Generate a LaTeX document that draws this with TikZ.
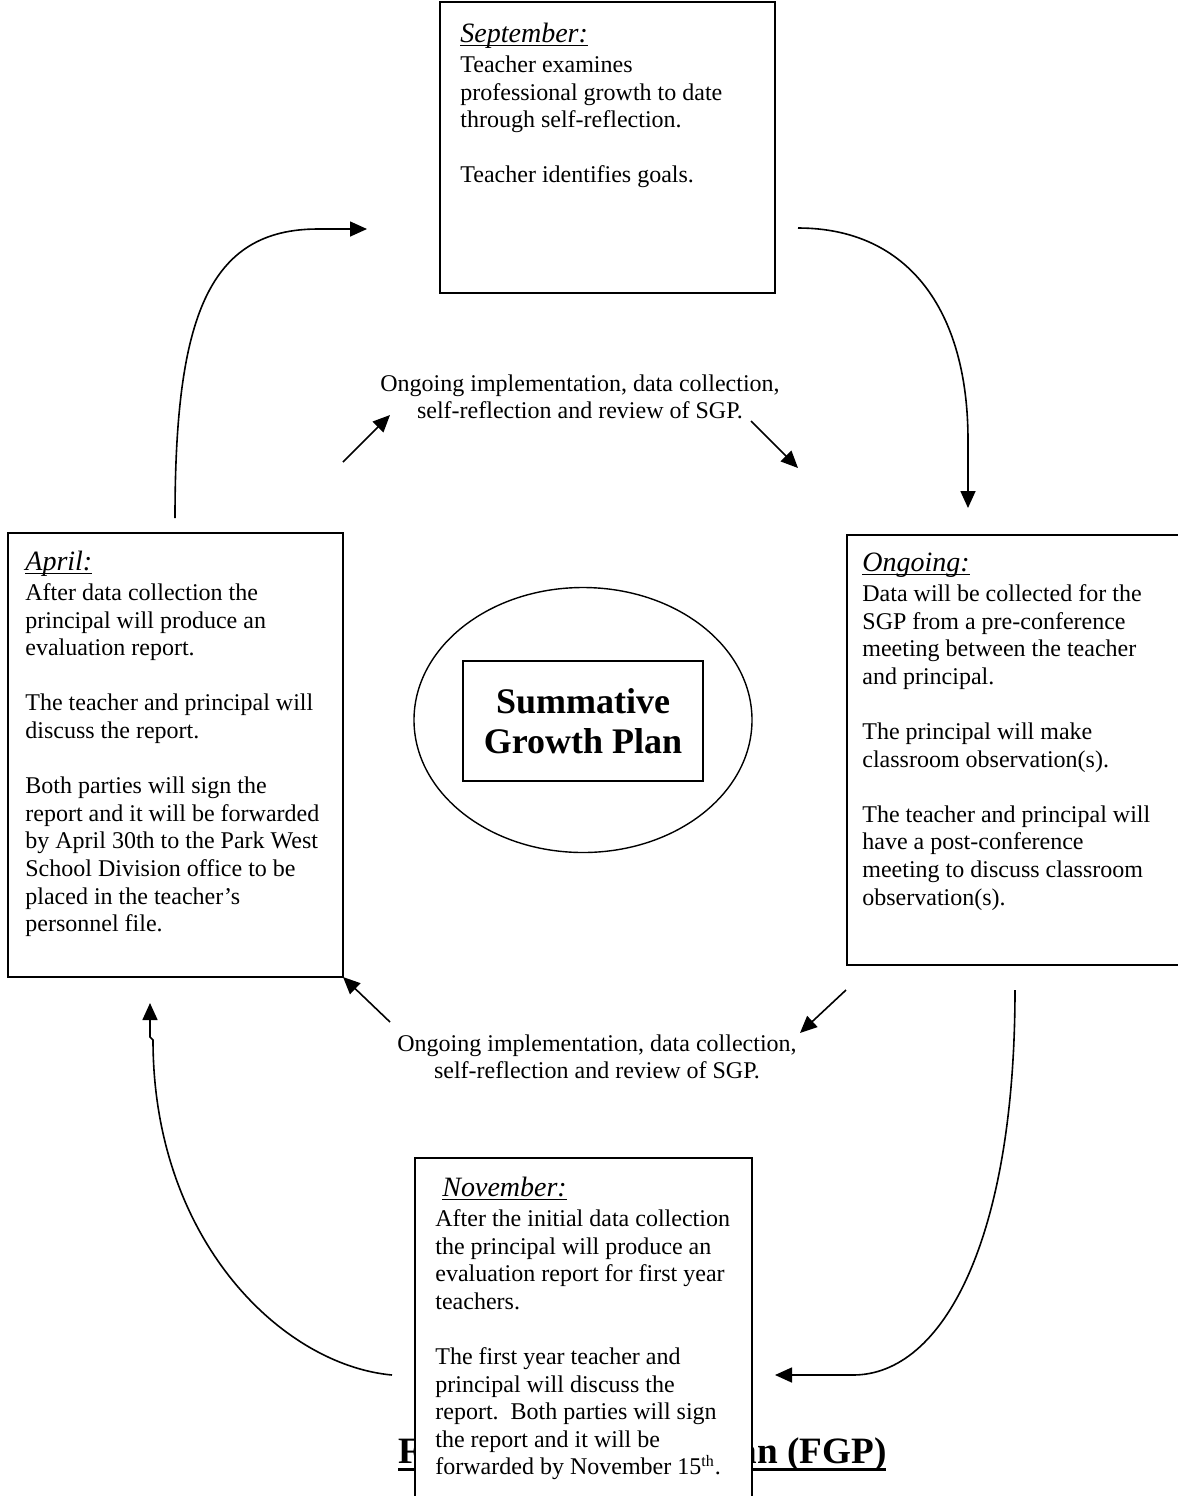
\documentclass[tikz,border=0pt]{standalone}
\usepackage{fontspec}
\setmainfont{Liberation Serif}
\usetikzlibrary{arrows.meta,shapes.geometric,fit}
\newcommand{\monthhead}[1]{{\fontsize{14}{15}\selectfont\itshape\setbox0=\hbox{#1}\rlap{\rule[-1.6pt]{\wd0}{0.6pt}}\box0}}
\newcommand{\plantitle}[1]{{\setbox0=\hbox{#1}\rlap{\rule[-3.8pt]{\wd0}{1.2pt}}\box0}}

\begin{document}
\begin{tikzpicture}[x=0.5pt,y=-0.5pt,
  stagebox/.style={draw,line width=1pt,inner sep=0pt},
  stagetext/.style={anchor=north west,inner sep=0pt,align=left,font=\fontsize{12}{13.8}\selectfont},
  flow/.style={line width=0.8pt,-{Triangle[length=8.5pt,width=7.5pt]}},
  note/.style={anchor=north,inner sep=0pt,align=center,font=\fontsize{12}{13.8}\selectfont}]
\useasboundingbox (0,0) rectangle (1178,1496);
\node[stagebox,fit={(440,2) (775,293)}] (sept) {};
\node[stagetext] (septtext) at (460,23) {\monthhead{September:}\\[1pt]
Teacher examines\\
professional growth to date\\
through self-reflection.\\[13.8pt]
Teacher identifies goals.};
\node[stagebox,fit={(8,533) (343,977)}] (april) {};
\node[stagetext] (apriltext) at (25,551) {\monthhead{April:}\\[1pt]
After data collection the\\
principal will produce an\\
evaluation report.\\[13.8pt]
The teacher and principal will\\
discuss the report.\\[13.8pt]
Both parties will sign the\\
report and it will be forwarded\\
by April 30th to the Park West\\
School Division office to be\\
placed in the teacher's\\
personnel file.};
\node[stagebox,fit={(847,535) (1190,965)}] (ongoing) {};
\node[stagetext] (ongoingtext) at (862,553) {\monthhead{Ongoing:}\\[1pt]
Data will be collected for the\\
SGP from a pre-conference\\
meeting between the teacher\\
and principal.\\[13.8pt]
The principal will make\\
classroom observation(s).\\[13.8pt]
The teacher and principal will\\
have a post-conference\\
meeting to discuss classroom\\
observation(s).};
\node[draw,ellipse,line width=0.7pt,minimum width=169pt,minimum height=132.5pt] (sgp) at (583,720) {};
\node[draw,line width=1pt,minimum width=120pt,minimum height=60pt,align=center,font=\fontsize{18}{20}\selectfont\bfseries] (sgptitle) at (583,721) {Summative\\Growth Plan};
\node[note] (topnote) at (580,374) {Ongoing implementation, data collection,\\self-reflection and review of SGP.};
\node[note] (lownote) at (597,1034) {Ongoing implementation, data collection,\\self-reflection and review of SGP.};
\node[anchor=base west,inner sep=0pt,font=\fontsize{18.6}{20}\selectfont\bfseries] (fgptitle) at (398,1463) {\plantitle{Formative Growth Plan (FGP)}};
\node[stagebox,fill=white,fit={(415,1158) (752,1510)}] (nov) {};
\node[stagetext] (novtext) at (435,1177) {\hspace{3.5pt}\monthhead{November:}\\[1pt]
After the initial data collection\\
the principal will produce an\\
evaluation report for first year\\
teachers.\\[13.8pt]
The first year teacher and\\
principal will discuss the\\
report.\ \ Both parties will sign\\
the report and it will be\\
forwarded by November 15\textsuperscript{th}.};
\coordinate (aprilout) at (175,518);
\coordinate (septin) at (367,229);
\coordinate (septout) at (798,228);
\coordinate (ongoingin) at (968,508);
\coordinate (ongoingout) at (1015,990);
\coordinate (novin) at (775,1375);
\coordinate (novout) at (392,1375);
\coordinate (aprilkink) at (153,1040);
\coordinate (aprilin) at (150,1003);
\coordinate (ula) at (343,462);
\coordinate (ulb) at (390,415);
\coordinate (ura) at (751,421);
\coordinate (urb) at (798,468);
\coordinate (lra) at (846,990);
\coordinate (lrb) at (800,1033);
\coordinate (lla) at (390,1022);
\coordinate (llb) at (343,977);
\draw[flow] (aprilout) .. controls +(0,-200) and +(-110,0) .. ([xshift=-24.5pt]septin) -- (septin);
\draw[flow] (septout) .. controls +(110,0) and +(0,-130) .. ([yshift=34pt]ongoingin) -- (ongoingin);
\draw[flow] (ongoingout) .. controls +(0,250) and +(90,0) .. ([xshift=39pt]novin) -- (novin);
\draw[flow] (novout) .. controls +(-110,-10) and +(0,200) .. (aprilkink) -- ++(-3,-3) -- (aprilin);
\draw[flow] (ula) -- (ulb);
\draw[flow] (ura) -- (urb);
\draw[flow] (lra) -- (lrb);
\draw[flow] (lla) -- (llb);
\end{tikzpicture}
\end{document}
